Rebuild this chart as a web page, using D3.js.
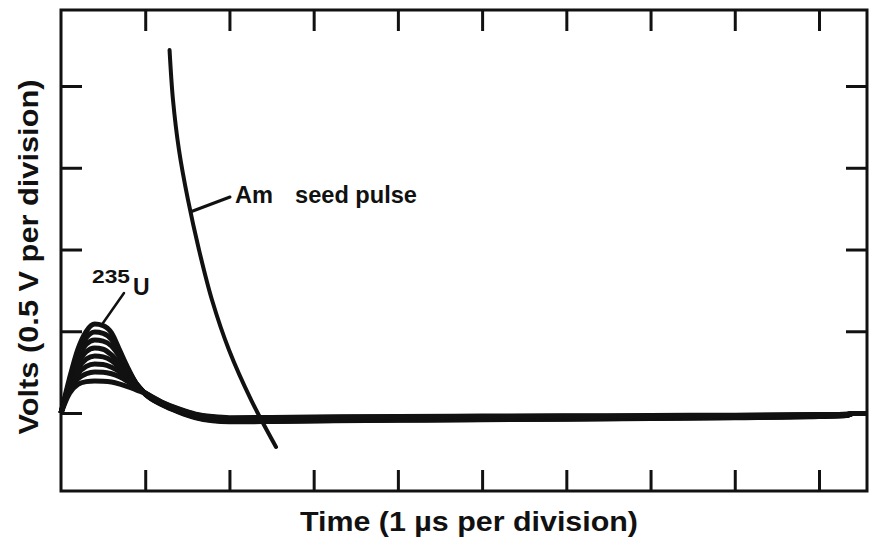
<!DOCTYPE html>
<html>
<head>
<meta charset="utf-8">
<script src="https://cdn.jsdelivr.net/npm/d3@7"></script>
<style>
  html, body { margin: 0; padding: 0; background: #fff; }
  text { font-family: "Liberation Sans", Arial, sans-serif; font-weight: bold; fill: #111; }
</style>
</head>
<body>
<svg id="chart" width="870" height="539"></svg>
<script>
/*
 * Data
 *****************************/
// time in microseconds (1 division = 1 us)
const PULSE_TIMES = [0, 0.1, 0.2, 0.3, 0.4, 0.5, 0.6, 0.7, 0.8, 0.9, 1.0, 1.2, 1.4, 1.6, 1.8, 2.0, 2.5, 3, 4, 5, 6, 7, 8, 9, 9.33, 9.4, 9.57];

// 235U pulses, volts
const U_PULSE_1 = [0, 0.21, 0.39, 0.50, 0.544, 0.535, 0.49, 0.38, 0.27, 0.175, 0.115, 0.05, 0.005, -0.03, -0.048, -0.054, -0.052, -0.049, -0.045, -0.041, -0.038, -0.034, -0.029, -0.022, -0.016, -0.003, -0.003];
const U_PULSE_2 = [0, 0.19, 0.36, 0.46, 0.495, 0.487, 0.45, 0.36, 0.26, 0.175, 0.117, 0.052, 0.008, -0.027, -0.045, -0.051, -0.05, -0.047, -0.043, -0.039, -0.036, -0.032, -0.027, -0.02, -0.015, -0.003, -0.003];
const U_PULSE_3 = [0, 0.18, 0.33, 0.42, 0.446, 0.44, 0.41, 0.34, 0.25, 0.175, 0.118, 0.055, 0.01, -0.024, -0.042, -0.048, -0.047, -0.044, -0.04, -0.036, -0.033, -0.029, -0.025, -0.018, -0.013, -0.003, -0.003];
const U_PULSE_4 = [0, 0.17, 0.30, 0.375, 0.398, 0.39, 0.355, 0.30, 0.235, 0.175, 0.12, 0.058, 0.013, -0.02, -0.038, -0.045, -0.044, -0.041, -0.037, -0.033, -0.03, -0.027, -0.023, -0.016, -0.012, -0.003, -0.003];
const U_PULSE_5 = [0, 0.16, 0.27, 0.33, 0.349, 0.343, 0.32, 0.275, 0.22, 0.17, 0.12, 0.06, 0.016, -0.017, -0.034, -0.041, -0.039, -0.036, -0.032, -0.029, -0.026, -0.024, -0.02, -0.014, -0.01, -0.003, -0.003];
const U_PULSE_6 = [0, 0.15, 0.24, 0.285, 0.300, 0.297, 0.28, 0.25, 0.205, 0.165, 0.122, 0.062, 0.019, -0.014, -0.03, -0.037, -0.034, -0.031, -0.028, -0.025, -0.023, -0.021, -0.018, -0.012, -0.009, -0.003, -0.003];
const U_PULSE_7 = [0, 0.14, 0.21, 0.24, 0.251, 0.25, 0.24, 0.22, 0.19, 0.158, 0.123, 0.064, 0.022, -0.01, -0.026, -0.033, -0.03, -0.027, -0.024, -0.022, -0.02, -0.018, -0.015, -0.01, -0.008, -0.003, -0.003];
const U_PULSE_8 = [0, 0.12, 0.175, 0.192, 0.196, 0.195, 0.19, 0.177, 0.16, 0.14, 0.12, 0.066, 0.025, -0.007, -0.022, -0.029, -0.027, -0.024, -0.021, -0.019, -0.017, -0.015, -0.013, -0.009, -0.007, -0.003, -0.003];

// Am seed pulse
const AM_TIMES = [1.289, 1.330, 1.401, 1.508, 1.639, 1.793, 1.995, 2.257, 2.553];
const AM_VOLTS = [2.220, 1.914, 1.609, 1.303, 0.997, 0.691, 0.385, 0.080, -0.208];

// ticks
const X_TICKS = [1, 2, 3, 4, 5, 6, 7, 8, 9];
const Y_TICKS = [0, 0.5, 1, 1.5, 2];

/*
 * Parameters
 *****************************/
const frame = { left: 61, right: 867, top: 10, bottom: 491 };
const tickLen = 21;

const svg = d3.select("#chart");

const xScale = d3.scaleLinear().domain([0, 9.57]).range([frame.left, frame.right]);
const yScale = d3.scaleLinear().domain([-0.477, 2.465]).range([frame.bottom, frame.top]);

const line = d3.line()
  .x(d => xScale(d[0]))
  .y(d => yScale(d[1]))
  .curve(d3.curveMonotoneX);

// ticks on every side, pointing inward
function tickAxis(axis, transform) {
  const g = svg.append("g")
    .attr("transform", transform)
    .call(axis.tickSize(-tickLen).tickFormat(""));
  g.select(".domain").remove();
  g.selectAll(".tick line").attr("stroke", "#111").attr("stroke-width", 3);
}
tickAxis(d3.axisBottom(xScale).tickValues(X_TICKS), `translate(0,${frame.bottom})`);
tickAxis(d3.axisTop(xScale).tickValues(X_TICKS), `translate(0,${frame.top})`);
tickAxis(d3.axisLeft(yScale).tickValues(Y_TICKS), `translate(${frame.left},0)`);
tickAxis(d3.axisRight(yScale).tickValues(Y_TICKS), `translate(${frame.right},0)`);

// frame
svg.append("rect")
  .attr("x", frame.left).attr("y", frame.top)
  .attr("width", frame.right - frame.left).attr("height", frame.bottom - frame.top)
  .attr("fill", "none")
  .attr("stroke", "#111")
  .attr("stroke-width", 3);

// 235U pulses
const uPulses = [U_PULSE_1, U_PULSE_2, U_PULSE_3, U_PULSE_4, U_PULSE_5, U_PULSE_6, U_PULSE_7, U_PULSE_8];
svg.append("g").selectAll("path")
  .data(uPulses)
  .enter()
  .append("path")
  .attr("d", vals => line(vals.map((v, i) => [PULSE_TIMES[i], v])))
  .attr("fill", "none")
  .attr("stroke", "#111")
  .attr("stroke-width", 5);

// Am seed pulse
svg.append("path")
  .attr("d", line.curve(d3.curveCatmullRom)(AM_VOLTS.map((v, i) => [AM_TIMES[i], v])))
  .attr("fill", "none")
  .attr("stroke", "#111")
  .attr("stroke-width", 4)
  .attr("stroke-linecap", "round");

// annotations
svg.append("line")
  .attr("x1", 191.5).attr("y1", 211.5).attr("x2", 230).attr("y2", 197)
  .attr("stroke", "#111").attr("stroke-width", 3).attr("stroke-linecap", "round");
svg.append("text").attr("x", 235).attr("y", 203)
  .style("font-size", "23px").attr("textLength", 38).attr("lengthAdjust", "spacingAndGlyphs")
  .text("Am");
svg.append("text").attr("x", 295).attr("y", 203)
  .style("font-size", "23px").attr("textLength", 122).attr("lengthAdjust", "spacingAndGlyphs")
  .text("seed pulse");

svg.append("line")
  .attr("x1", 124).attr("y1", 293).attr("x2", 103).attr("y2", 323)
  .attr("stroke", "#111").attr("stroke-width", 2.5).attr("stroke-linecap", "round");
svg.append("text").attr("x", 92).attr("y", 283)
  .style("font-size", "18px").attr("textLength", 38).attr("lengthAdjust", "spacingAndGlyphs")
  .text("235");
svg.append("text").attr("x", 133).attr("y", 295)
  .style("font-size", "23px")
  .text("U");

// axis titles
svg.append("text")
  .attr("x", 300).attr("y", 531)
  .style("font-size", "28px")
  .attr("textLength", 338).attr("lengthAdjust", "spacingAndGlyphs")
  .text("Time (1 \u00b5s per division)");

svg.append("text")
  .attr("transform", "translate(38,257) rotate(-90)")
  .attr("text-anchor", "middle")
  .style("font-size", "28px")
  .attr("textLength", 355).attr("lengthAdjust", "spacingAndGlyphs")
  .text("Volts (0.5 V per division)");
</script>
</body>
</html>
